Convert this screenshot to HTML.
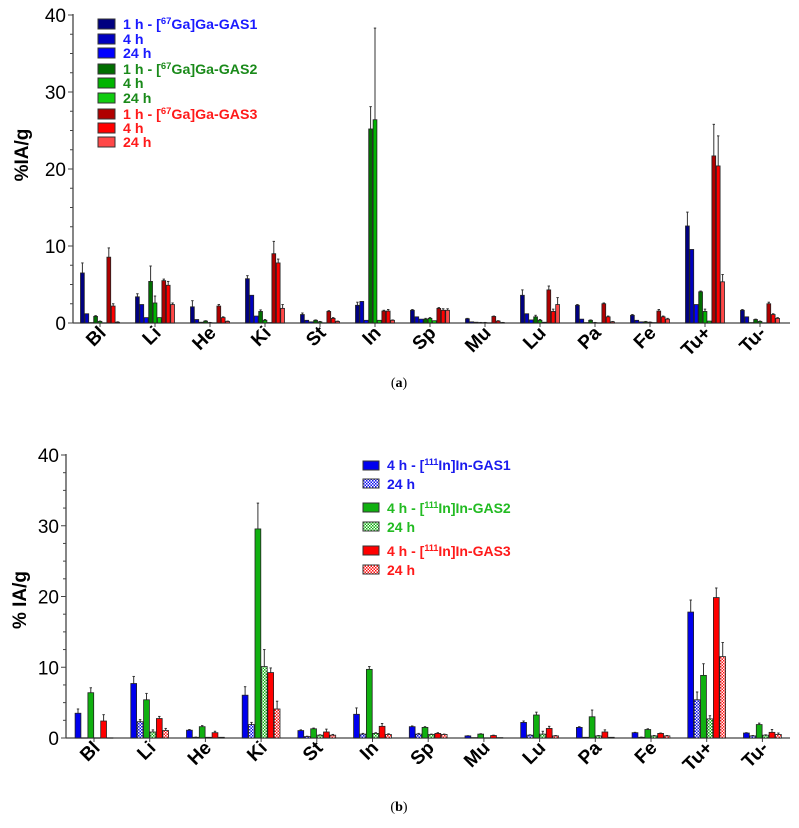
<!DOCTYPE html>
<html><head><meta charset="utf-8"><style>
body{margin:0;background:#fff;}
svg{display:block;font-family:"Liberation Sans",Arial,sans-serif;}
</style></head><body>
<svg id="svg" width="799" height="828" viewBox="0 0 799 828" xmlns="http://www.w3.org/2000/svg">
<defs>
<pattern id="chkB" width="3" height="3" patternUnits="userSpaceOnUse"><rect width="3" height="3" fill="#fff"/><rect width="1.5" height="1.5" fill="#1010ee"/><rect x="1.5" y="1.5" width="1.5" height="1.5" fill="#1010ee"/></pattern>
<pattern id="chkG" width="3" height="3" patternUnits="userSpaceOnUse"><rect width="3" height="3" fill="#fff"/><rect width="1.5" height="1.5" fill="#10b010"/><rect x="1.5" y="1.5" width="1.5" height="1.5" fill="#10b010"/></pattern>
<pattern id="chkR" width="3" height="3" patternUnits="userSpaceOnUse"><rect width="3" height="3" fill="#fff"/><rect width="1.5" height="1.5" fill="#ff1010"/><rect x="1.5" y="1.5" width="1.5" height="1.5" fill="#ff1010"/></pattern>
</defs>
<g id="pa"></g>
<g id="pb"></g>
<text x="399" y="387" text-anchor="middle" font-family="Liberation Serif" font-size="14">(<tspan font-weight="bold">a</tspan>)</text>
<text x="399" y="811" text-anchor="middle" font-family="Liberation Serif" font-size="14">(<tspan font-weight="bold">b</tspan>)</text>
<text transform="translate(28,155) rotate(-90)" text-anchor="middle" font-size="19" font-weight="bold">%IA/g</text>
<text transform="translate(26,600) rotate(-90)" text-anchor="middle" font-size="19" font-weight="bold">% IA/g</text>
<g font-size="14.2" font-weight="bold">
<rect x="98" y="19" width="17" height="10" fill="#000080" stroke="#333"/>
<text x="123" y="29" fill="#1a1aff">1 h - [<tspan font-size="9.5" dy="-5">67</tspan><tspan dy="5">Ga]Ga-GAS1</tspan></text>
<rect x="98" y="34" width="17" height="10" fill="#0000c0" stroke="#333"/>
<text x="123" y="44" fill="#1a1aff">4 h</text>
<rect x="98" y="48" width="17" height="10" fill="#0000ff" stroke="#333"/>
<text x="123" y="58" fill="#1a1aff">24 h</text>
<rect x="98" y="64" width="17" height="10" fill="#006e00" stroke="#333"/>
<text x="123" y="74" fill="#1a8a1a">1 h - [<tspan font-size="9.5" dy="-5">67</tspan><tspan dy="5">Ga]Ga-GAS2</tspan></text>
<rect x="98" y="78" width="17" height="10" fill="#00b400" stroke="#333"/>
<text x="123" y="88" fill="#1a8a1a">4 h</text>
<rect x="98" y="93" width="17" height="10" fill="#10cc10" stroke="#333"/>
<text x="123" y="103" fill="#1a8a1a">24 h</text>
<rect x="98" y="109" width="17" height="10" fill="#b00000" stroke="#333"/>
<text x="123" y="119" fill="#ff1a1a">1 h - [<tspan font-size="9.5" dy="-5">67</tspan><tspan dy="5">Ga]Ga-GAS3</tspan></text>
<rect x="98" y="123" width="17" height="10" fill="#ff0000" stroke="#333"/>
<text x="123" y="133" fill="#ff1a1a">4 h</text>
<rect x="98" y="137" width="17" height="10" fill="#ff4848" stroke="#333"/>
<text x="123" y="147" fill="#ff1a1a">24 h</text>
</g>
<g font-size="14" font-weight="bold">
<rect x="363" y="461" width="16" height="9" fill="#0000ee" stroke="#333"/>
<text x="387" y="470" fill="#1a1aee">4 h - [<tspan font-size="9" dy="-5">111</tspan><tspan dy="5">In]In-GAS1</tspan></text>
<rect x="363" y="479" width="16" height="9" fill="url(#chkB)" stroke="#333"/>
<text x="387" y="489" fill="#1a1aee">24 h</text>
<rect x="363" y="503" width="16" height="9" fill="#10b010" stroke="#333"/>
<text x="387" y="513" fill="#22bb22">4 h - [<tspan font-size="9" dy="-5">111</tspan><tspan dy="5">In]In-GAS2</tspan></text>
<rect x="363" y="522" width="16" height="9" fill="url(#chkG)" stroke="#333"/>
<text x="387" y="532" fill="#22bb22">24 h</text>
<rect x="363" y="546" width="16" height="9" fill="#ff0000" stroke="#333"/>
<text x="387" y="556" fill="#ff1a1a">4 h - [<tspan font-size="9" dy="-5">111</tspan><tspan dy="5">In]In-GAS3</tspan></text>
<rect x="363" y="565" width="16" height="9" fill="url(#chkR)" stroke="#333"/>
<text x="387" y="575" fill="#ff1a1a">24 h</text>
</g>
</svg>
<script>
const categories = ["Bl","Li","He","Ki","St","In","Sp","Mu","Lu","Pa","Fe","Tu+","Tu-"];
const yTicks = [0,10,20,30,40];
// Panel a: 9 series
const a_gas1_1h = [6.5,3.4,2.1,5.75,1.1,2.3,1.65,0.55,3.6,2.3,1.0,12.6,1.65];
const a_gas1_4h = [1.2,2.4,0.45,3.6,0.35,2.8,0.8,0.15,1.2,0.5,0.35,9.55,0.8];
const a_gas1_24h = [0.05,0.7,0.1,0.9,0.15,0.35,0.5,0.1,0.4,0.05,0.15,2.4,0.05];
const a_gas2_1h = [0.86,5.4,0.25,1.5,0.35,25.2,0.5,0.05,0.8,0.35,0.15,4.05,0.45];
const a_gas2_4h = [0.2,2.6,0.05,0.35,0.15,26.4,0.6,0.05,0.35,0.05,0.1,1.5,0.2];
const a_gas2_24h = [0.02,0.7,0.02,0.05,0.02,0.35,0.3,0.02,0.1,0.02,0.05,0.25,0.02];
const a_gas3_1h = [8.55,5.5,2.2,9.0,1.5,1.55,1.9,0.85,4.3,2.5,1.55,21.7,2.5];
const a_gas3_4h = [2.2,4.9,0.7,7.8,0.6,1.55,1.65,0.25,1.5,0.8,0.8,20.4,1.1];
const a_gas3_24h = [0.1,2.4,0.2,1.9,0.2,0.35,1.65,0.05,2.4,0.15,0.5,5.35,0.6];
const a_gas1_1h_err = [1.3,0.4,0.8,0.4,0.2,0.4,0.1,0.05,0.7,0.1,0.1,1.8,0.1];
const a_gas2_1h_err = [0.1,2.0,0.05,0.2,0.05,2.9,0.1,0.02,0.2,0.05,0.05,0.1,0.05];
const a_gas2_4h_err = [0.05,0.9,0.02,0.1,0.05,11.9,0.1,0.02,0.1,0.02,0.02,0.3,0.05];
const a_gas3_1h_err = [1.2,0.2,0.2,1.6,0.1,0.1,0.1,0.05,0.5,0.1,0.2,4.1,0.2];
const a_gas3_4h_err = [0.3,0.5,0.1,0.5,0.1,0.2,0.2,0.05,0.3,0.1,0.1,3.9,0.1];
const a_gas3_24h_err = [0.05,0.2,0.05,0.5,0.05,0.05,0.2,0.02,0.9,0.05,0.1,0.95,0.1];
// Panel b: 6 series
const b_gas1_4h = [3.5,7.7,1.1,6.05,1.05,3.35,1.6,0.3,2.2,1.5,0.75,17.8,0.7];
const b_gas1_24h = [0.02,2.3,0.1,1.9,0.2,0.55,0.55,0.05,0.4,0.1,0.1,5.4,0.3];
const b_gas2_4h = [6.4,5.4,1.6,29.55,1.3,9.7,1.5,0.55,3.25,3.0,1.2,8.85,1.9];
const b_gas2_24h = [0.02,0.85,0.1,10.1,0.4,0.65,0.5,0.02,0.55,0.3,0.3,2.7,0.4];
const b_gas3_4h = [2.4,2.75,0.75,9.25,0.85,1.65,0.65,0.35,1.35,0.85,0.65,19.85,0.8];
const b_gas3_24h = [0.02,1.05,0.1,4.1,0.4,0.5,0.5,0.05,0.3,0.1,0.3,11.5,0.5];
const b_gas1_4h_err = [0.6,1.0,0.1,1.2,0.1,0.9,0.1,0.02,0.2,0.1,0.05,1.7,0.05];
const b_gas1_24h_err = [0,0.3,0.02,0.3,0.05,0.1,0.1,0,0.05,0,0.02,1.1,0.05];
const b_gas2_4h_err = [0.7,0.9,0.15,3.65,0.1,0.4,0.1,0.05,0.4,0.95,0.1,1.65,0.2];
const b_gas2_24h_err = [0,0.3,0,2.4,0.05,0.1,0.05,0,0.4,0.05,0.05,0.45,0.05];
const b_gas3_4h_err = [0.9,0.3,0.2,0.65,0.4,0.4,0.1,0.05,0.3,0.3,0.05,1.35,0.4];
const b_gas3_24h_err = [0,0.3,0,1.1,0.1,0.1,0.05,0,0.05,0,0.05,2.0,0.2];

const NS="http://www.w3.org/2000/svg";
function mk(tag,attrs,parent){const e=document.createElementNS(NS,tag);for(const k in attrs)e.setAttribute(k,attrs[k]);parent.appendChild(e);return e;}

function drawPanel(g, cfg){
  const y=v=>cfg.y0-(v/40)*(cfg.y0-cfg.y40);
  const xc=i=>cfg.x0+cfg.step*i;
  const ax=mk('line',{x1:cfg.axX,y1:cfg.y40-1,x2:cfg.axX,y2:cfg.y0,stroke:'#444','stroke-width':1.3},g);
  
  
  for(let v=0;v<=40;v+=2.5){
    const maj=v%10===0;
    const t=mk('line',{x1:cfg.axX-(maj?5:3),x2:cfg.axX,y1:y(v),y2:y(v),stroke:'#444','stroke-width':1},g);
    
    
  }
  yTicks.forEach(v=>{
    const t=mk('text',{x:cfg.axX-7,y:y(v)+7,'text-anchor':'end','font-size':19},g);
    
    
    t.textContent=v;
  });
  const xa=mk('line',{x1:cfg.axX,y1:cfg.y0,x2:cfg.xEnd,y2:cfg.y0,stroke:'#444','stroke-width':1.3},g);
  
  
  const n=cfg.series.length, bw=cfg.bw;
  categories.forEach((c,i)=>{
    const cx=xc(i);
    const tk=mk('line',{x1:cx,x2:cx,y1:cfg.y0,y2:cfg.y0+4,stroke:'#444'},g);
    
    
    const lb=mk('text',{transform:`translate(${cx+7},${cfg.y0+11}) rotate(-45)`,'text-anchor':'end','font-size':19,'font-weight':'bold'},g);
    
    
    lb.textContent=c;
    const left=cx-n*bw/2;
    cfg.series.forEach((s,j)=>{
      const v=s.vals[i], x=left+j*bw;
      const top=y(v);
      if(s.err){const e=s.err[i]; if(e>0){
        const el=mk('line',{x1:x+bw/2,x2:x+bw/2,y1:y(v+e),y2:top,stroke:'#333','stroke-width':1},g);
        
        
        const cap=mk('line',{x1:x+bw/2-1.2,x2:x+bw/2+1.2,y1:y(v+e),y2:y(v+e),stroke:'#333','stroke-width':1},g);
        
        
      }}
      const r=mk('rect',{x:x+0.3,y:top,width:bw-0.6,height:Math.max(cfg.y0-top,0.3),fill:s.fill,stroke:'#222','stroke-width':0.8},g);
      
      
    });
  });
}
drawPanel(document.getElementById('pa'),{x0:100,step:55,y0:323,y40:15,axX:73,xEnd:790,bw:4.4,series:[
 {name:'ga-gas1-1h',vals:a_gas1_1h,err:a_gas1_1h_err,fill:'#000080'},
 {name:'ga-gas1-4h',vals:a_gas1_4h,fill:'#0000c0'},
 {name:'ga-gas1-24h',vals:a_gas1_24h,fill:'#0000ff'},
 {name:'ga-gas2-1h',vals:a_gas2_1h,err:a_gas2_1h_err,fill:'#006e00'},
 {name:'ga-gas2-4h',vals:a_gas2_4h,err:a_gas2_4h_err,fill:'#00b400'},
 {name:'ga-gas2-24h',vals:a_gas2_24h,fill:'#10cc10'},
 {name:'ga-gas3-1h',vals:a_gas3_1h,err:a_gas3_1h_err,fill:'#b00000'},
 {name:'ga-gas3-4h',vals:a_gas3_4h,err:a_gas3_4h_err,fill:'#ff0000'},
 {name:'ga-gas3-24h',vals:a_gas3_24h,err:a_gas3_24h_err,fill:'#ff4848'}]});
drawPanel(document.getElementById('pb'),{x0:94,step:55.7,y0:738,y40:455,axX:66,xEnd:790,bw:6.4,series:[
 {name:'in-gas1-4h',vals:b_gas1_4h,err:b_gas1_4h_err,fill:'#0000ee'},
 {name:'in-gas1-24h',vals:b_gas1_24h,err:b_gas1_24h_err,fill:'url(#chkB)'},
 {name:'in-gas2-4h',vals:b_gas2_4h,err:b_gas2_4h_err,fill:'#10b010'},
 {name:'in-gas2-24h',vals:b_gas2_24h,err:b_gas2_24h_err,fill:'url(#chkG)'},
 {name:'in-gas3-4h',vals:b_gas3_4h,err:b_gas3_4h_err,fill:'#ff0000'},
 {name:'in-gas3-24h',vals:b_gas3_24h,err:b_gas3_24h_err,fill:'url(#chkR)'}]});
</script>
</body></html>
